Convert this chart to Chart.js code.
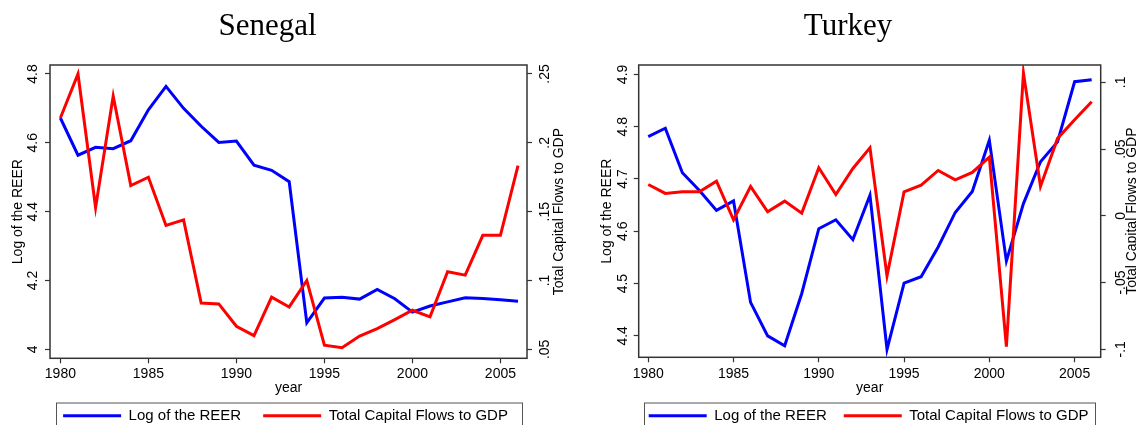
<!DOCTYPE html>
<html>
<head>
<meta charset="utf-8">
<script src="https://cdn.jsdelivr.net/npm/chart.js@4.4.1/dist/chart.umd.min.js"></script>
<style>
 body { margin: 0; width: 1136px; height: 425px; overflow: hidden; background: #fff; }
 canvas { position: absolute; top: 0; }
</style>
</head>
<body>
<canvas id="senegal" width="568" height="444" style="left:0"></canvas>
<canvas id="turkey" width="568" height="444" style="left:568px"></canvas>
<script>
// data
const years = [1980,1981,1982,1983,1984,1985,1986,1987,1988,1989,1990,1991,1992,1993,
 1994,1995,1996,1997,1998,1999,2000,2001,2002,2003,2004,2005,2006]

const senegalReer = [4.672,4.564,4.587,4.583,4.606,4.696,4.764,4.700,4.648,4.601,4.605,4.535,4.520,4.487,
 4.077,4.149,4.151,4.146,4.174,4.147,4.108,4.126,4.138,4.150,4.148,4.144,4.140]
const senegalFlows = [0.218,0.250,0.153,0.234,0.169,0.175,0.140,0.144,0.0837,0.083,0.0668,0.060,0.0879,0.0808,
 0.100,0.053,0.0512,0.0597,0.065,0.0716,0.0784,0.0736,0.1063,0.1039,0.1328,0.1328,0.1835]

const turkeyReer = [4.781,4.797,4.712,4.678,4.640,4.658,4.464,4.400,4.381,4.481,4.605,4.622,4.584,4.669,
 4.374,4.501,4.513,4.570,4.636,4.676,4.774,4.543,4.653,4.733,4.771,4.886,4.890]
const turkeyFlows = [0.0235,0.0168,0.018,0.018,0.026,-0.003,0.022,0.003,0.011,0.002,0.036,0.016,0.0355,0.051,
 -0.045,0.018,0.023,0.034,0.027,0.0325,0.044,-0.098,0.107,0.022,0.058,0.072,0.0855]

const yearTicks = [1980,1985,1990,1995,2000,2005]
const senegalReerTicks = [4.0,4.2,4.4,4.6,4.8]
const senegalReerLabels = ["4","4.2","4.4","4.6","4.8"]
const senegalFlowTicks = [0.05,0.10,0.15,0.20,0.25]
const senegalFlowLabels = [".05",".1",".15",".2",".25"]
const turkeyReerTicks = [4.4,4.5,4.6,4.7,4.8,4.9]
const turkeyReerLabels = ["4.4","4.5","4.6","4.7","4.8","4.9"]
const turkeyFlowTicks = [-0.10,-0.05,0,0.05,0.10]
const turkeyFlowLabels = ["-.1","-.05","0",".05",".1"]

Chart.defaults.font.family = '"Liberation Sans", Arial, sans-serif'
Chart.defaults.color = '#000'

const sans = {family: '"Liberation Sans", Arial, sans-serif', size: 14}

// box round the plot, legend frame, right axis title
const panelPlugin = {
 id: 'panel',
 afterLayout(chart, args, o) {
  const t = chart.titleBlock
  t.left = o.titleX - 150
  t.right = o.titleX + 150
  const lg = chart.legend
  lg.left = o.legendX - 270
  lg.right = o.legendX + 270
  lg.top = o.legendTop
  lg.bottom = o.legendTop + lg.height
 },
 afterDraw(chart, args, o) {
  const ctx = chart.ctx
  const a = chart.chartArea
  ctx.save()
  ctx.strokeStyle = '#333'
  ctx.lineWidth = 1.5
  ctx.strokeRect(a.left, a.top, a.right - a.left, a.bottom - a.top)
  ctx.strokeStyle = '#555'
  ctx.lineWidth = 1
  ctx.strokeRect(o.frameLeft + 0.5, o.frameTop + 0.5, o.frameRight - o.frameLeft, 40)
  ctx.fillStyle = '#000'
  ctx.font = '14px "Liberation Sans", Arial, sans-serif'
  ctx.textAlign = 'center'
  ctx.textBaseline = 'middle'
  ctx.translate(o.rightTitleX, (a.top + a.bottom) / 2)
  ctx.rotate(-Math.PI / 2)
  ctx.fillText('Total Capital Flows to GDP', 0, 0)
  ctx.restore()
 }
}

function makeChart(id, p) {
 return new Chart(document.getElementById(id), {
  type: 'line',
  data: {
   datasets: [{
    label: 'Log of the REER',
    data: years.map((yr, i) => ({x: yr, y: p.reer[i]})),
    borderColor: '#0000ff',
    backgroundColor: '#0000ff',
    borderWidth: 3,
    pointRadius: 0,
    yAxisID: 'y',
    order: 1
   }, {
    label: 'Total Capital Flows to GDP',
    data: years.map((yr, i) => ({x: yr, y: p.flows[i]})),
    borderColor: '#ff0000',
    backgroundColor: '#ff0000',
    borderWidth: 3,
    pointRadius: 0,
    yAxisID: 'y1',
    order: 0
   }]
  },
  options: {
   responsive: false,
   animation: false,
   layout: {padding: {top: 0, left: 0, right: 0, bottom: p.padBottom}},
   plugins: {
    title: {
     display: true,
     text: p.title,
     color: '#000',
     font: {family: '"Liberation Serif", "Times New Roman", serif', size: 31, weight: 'normal'},
     padding: {top: 8.4, bottom: 19.4}
    },
    legend: {
     position: 'bottom',
     labels: {
      usePointStyle: true,
      pointStyle: 'line',
      pointStyleWidth: 58,
      padding: p.legendPad,
      color: '#000',
      font: {size: 15},
      sort: (a, b) => a.datasetIndex - b.datasetIndex
     }
    },
    tooltip: {enabled: false},
    panel: p.panel
   },
   scales: {
    x: {
     type: 'linear',
     min: p.xMin,
     max: p.xMax,
     afterBuildTicks: s => { s.ticks = yearTicks.map(v => ({value: v})) },
     afterFit: s => { s.height = p.xHeight },
     ticks: {font: sans, padding: p.xPad, maxRotation: 0, callback: v => String(v)},
     grid: {drawOnChartArea: false, tickLength: 5, tickColor: '#333', tickWidth: 1.2},
     border: {display: false},
     title: {display: true, text: 'year', font: sans, color: '#000', padding: {top: 0, bottom: 0}}
    },
    y: {
     position: 'left',
     min: p.yMin,
     max: p.yMax,
     afterBuildTicks: s => { s.ticks = p.reerTicks.map(v => ({value: v})) },
     afterFit: s => { s.width = p.yWidth },
     ticks: {font: sans, minRotation: 90, maxRotation: 90, crossAlign: 'center', padding: p.yPad,
      callback: (v, i) => p.reerLabels[i]},
     grid: {drawOnChartArea: false, tickLength: 5, tickColor: '#333', tickWidth: 1.2},
     border: {display: false},
     title: {display: true, text: 'Log of the REER', font: sans, color: '#000', padding: {top: p.yTitlePad, bottom: 0}}
    },
    y1: {
     position: 'right',
     min: p.y1Min,
     max: p.y1Max,
     afterBuildTicks: s => { s.ticks = p.flowTicks.map(v => ({value: v})) },
     afterFit: s => { s.width = p.y1Width },
     ticks: {font: sans, minRotation: 90, maxRotation: 90, crossAlign: 'center', padding: 3,
      callback: (v, i) => p.flowLabels[i]},
     grid: {drawOnChartArea: false, tickLength: 5, tickColor: '#333', tickWidth: 1.2},
     border: {display: false}
    }
   }
  },
  plugins: [panelPlugin]
 })
}

makeChart('senegal', {
 title: 'Senegal',
 reer: senegalReer, flows: senegalFlows,
 reerTicks: senegalReerTicks, reerLabels: senegalReerLabels,
 flowTicks: senegalFlowTicks, flowLabels: senegalFlowLabels,
 xMin: 1979.41, xMax: 2006.51,
 yMin: 3.974, yMax: 4.826,
 y1Min: 0.0435, y1Max: 0.2565,
 yWidth: 50, y1Width: 41, xHeight: 38.1,
 padBottom: 0.6, legendPad: 22,
 xPad: 2, yPad: 2, yTitlePad: 9.6,
 panel: {titleX: 267.5, legendX: 285.5, legendTop: 386.2,
  frameLeft: 56, frameRight: 522, frameTop: 402.5, rightTitleX: 559}
})

makeChart('turkey', {
 title: 'Turkey',
 reer: turkeyReer, flows: turkeyFlows,
 reerTicks: turkeyReerTicks, reerLabels: turkeyReerLabels,
 flowTicks: turkeyFlowTicks, flowLabels: turkeyFlowLabels,
 xMin: 1979.44, xMax: 2006.53,
 yMin: 4.359, yMax: 4.918,
 y1Min: -0.106, y1Max: 0.113,
 yWidth: 70.7, y1Width: 35.3, xHeight: 39.1,
 padBottom: 5.6, legendPad: 17,
 xPad: 3, yPad: 1, yTitlePad: 31.1,
 panel: {titleX: 280, legendX: 300.6, legendTop: 391.2,
  frameLeft: 76, frameRight: 527, frameTop: 402.5, rightTitleX: 564}
})
</script>
</body>
</html>
